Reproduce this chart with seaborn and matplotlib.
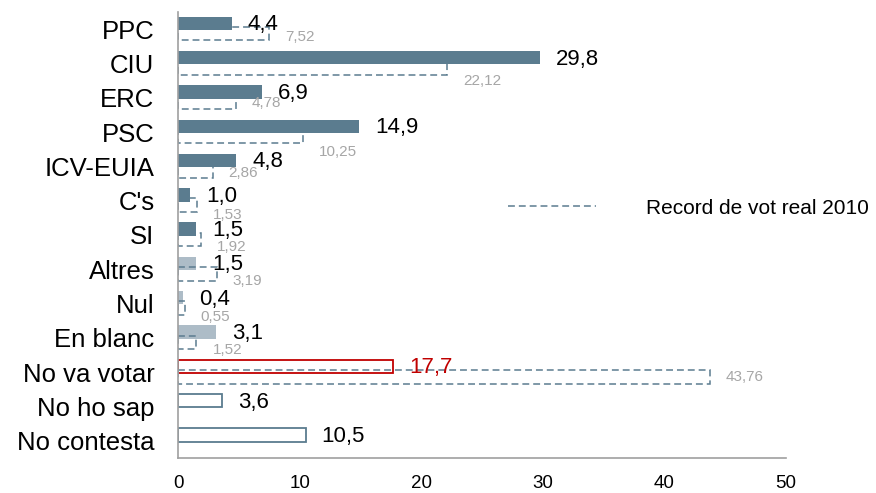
import matplotlib
matplotlib.use("Agg")
import matplotlib.pyplot as plt
from matplotlib.lines import Line2D
import seaborn as sns
import pandas as pd
import numpy as np

# ---- data ----
categories = ["PPC", "CIU", "ERC", "PSC", "ICV-EUIA", "C's", "SI", "Altres", "Nul",
              "En blanc", "No va votar", "No ho sap", "No contesta"]
vote_pct = [4.4, 29.8, 6.9, 14.9, 4.8, 1.0, 1.5, 1.5, 0.4, 3.1, 17.7, 3.6, 10.5]
record_categories = categories[:11]
record_2010 = [7.52, 22.12, 4.78, 10.25, 2.86, 1.53, 1.92, 3.19, 0.55, 1.52, 43.76]
x_ticks = [0, 10, 20, 30, 40, 50]
legend_label = "Record de vot real 2010"

# ---- style ----
DARK = "#5b7c8f"
LIGHT = "#adbcc7"
RED = "#c00000"
GRAY_TXT = "#a6a6a6"
AXIS = "#a0a0a0"
face_colors = [DARK] * 7 + [LIGHT] * 3 + ["white"] * 3
edge_colors = [DARK] * 7 + [LIGHT] * 3 + [RED, DARK, DARK]
value_colors = ["black"] * 10 + [RED, "black", "black"]
record_label_dy = [0.22, 0.5, 0.15, 0.58, 0.19, 0.42, 0.34, 0.34, 0.38, 0.34, 0.15]
DASH = (0, (4.5, 2.6))

sns.set_style("white")
plt.rcParams["font.family"] = ["Liberation Sans", "DejaVu Sans"]
plt.rcParams["text.color"] = "black"

fig = plt.figure(figsize=(8.76, 4.93), dpi=100)
W, H = 876, 493
ax = fig.add_axes([178 / W, 1 - 458 / H, (786 - 178) / W, (458 - 12) / H])

df_main = pd.DataFrame({"cat": categories, "val": vote_pct})
df_rec = pd.DataFrame({"cat": record_categories, "val": record_2010})

sns.barplot(data=df_main, x="val", y="cat", order=categories, orient="h",
            color=DARK, width=0.39, ax=ax, errorbar=None, saturation=1)
main_patches = list(ax.patches)
for i, p in enumerate(main_patches):
    h = 0.39
    p.set_y(i - 0.17 - h / 2)
    p.set_height(h)
    p.set_facecolor(face_colors[i])
    p.set_edgecolor(edge_colors[i])
    p.set_linewidth(1.3 if face_colors[i] == "white" else 0)
    p.set_zorder(2)

n0 = len(ax.patches)
sns.barplot(data=df_rec, x="val", y="cat", order=categories, orient="h",
            color=DARK, width=0.40, ax=ax, errorbar=None, fill=False)
rec_patches = list(ax.patches[n0:])
for i, p in enumerate(rec_patches):
    h = 0.40
    p.set_y(i + 0.13 - h / 2)
    p.set_height(h)
    p.set_facecolor("none")
    p.set_edgecolor(DARK)
    p.set_linewidth(1.1)
    p.set_linestyle(DASH)
    p.set_zorder(3)

# labels
for i, v in enumerate(vote_pct):
    ax.annotate(f"{v:.1f}".replace(".", ","), xy=(v, i - 0.13), xytext=(11.5, 0),
                textcoords="offset points", ha="left", va="center",
                fontsize=16, color=value_colors[i], zorder=5)
for i, v in enumerate(record_2010):
    ax.annotate(f"{v:.2f}".replace(".", ","), xy=(v, i + record_label_dy[i]),
                xytext=(11.5, 0), textcoords="offset points", ha="left",
                va="center", fontsize=11, color=GRAY_TXT, zorder=4)

# axes
ax.set_xlim(0, 50)
ax.set_ylim(len(categories) - 0.5, -0.5)
ax.set_xticks(x_ticks)
ax.set_xticklabels([str(t) for t in x_ticks])
ax.set_yticks(range(len(categories)))
ax.set_yticklabels(categories)
ax.set_yticks(np.arange(-0.5, len(categories)), minor=True)
ax.set_xlabel("")
ax.set_ylabel("")
ax.grid(False)
for s in ["top", "right"]:
    ax.spines[s].set_visible(False)
for s in ["left", "bottom"]:
    ax.spines[s].set_color(AXIS)
    ax.spines[s].set_linewidth(1.2)
    ax.spines[s].set_zorder(6)
ax.tick_params(axis="y", which="major", length=0, pad=17, labelsize=18.5,
               labelcolor="black")
ax.tick_params(axis="y", which="minor", length=4, width=1.2, color=AXIS, direction="out")
ax.tick_params(axis="x", which="major", length=3.5, width=1.2, color=AXIS,
               direction="out", pad=9, labelsize=13.5, labelcolor="black")

handle = Line2D([0], [0], color=DARK, lw=1.1, linestyle=DASH)
fig.legend([handle], [legend_label], loc="center left",
           bbox_to_anchor=(508 / W, 1 - 208 / H), frameon=False, fontsize=15,
           handlelength=4.2, handletextpad=2.4, borderpad=0, borderaxespad=0,
           labelcolor="black")

fig.savefig("out.png", dpi=100, facecolor="white")
